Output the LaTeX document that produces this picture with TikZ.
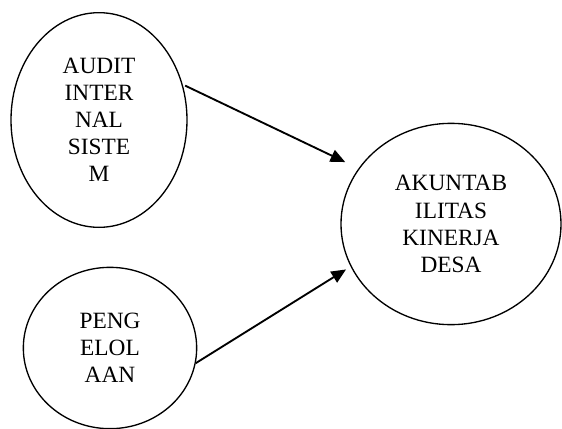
\documentclass[tikz,border=0pt]{standalone}
\usepackage{fontspec}
\setmainfont{Liberation Serif}
\usetikzlibrary{shapes.geometric,arrows.meta}

\begin{document}
\begin{tikzpicture}[
  x=0.75pt, y=-0.75pt,
  >={Triangle[length=11pt,width=9.5pt]},
  every node/.style={font=\fontsize{17.5}{20.3}\selectfont},
  var/.style={draw, ellipse, line width=1pt, inner sep=0pt, align=center},
  link/.style={->, line width=1.4pt},
]
\useasboundingbox (0,0) rectangle (562,429);

% Variables
\node[var, minimum width=132pt, minimum height=161pt] (audit) at (99,120)  {AUDIT\\INTER\\NAL\\SISTE\\M};
\node[var, minimum width=130pt, minimum height=121pt] (kelola) at (110,348) {PENG\\ELOL\\AAN};
\node[var, minimum width=165pt, minimum height=151pt] (akun) at (451,224)  {AKUNTAB\\ILITAS\\KINERJA\\DESA};

% Arrows
\draw[link, shorten <=2pt, shorten >=11pt] (audit.23) -- (akun.149);
\draw[link, shorten >=4pt] (kelola.-10) -- (akun.-157);

\end{tikzpicture}
\end{document}
